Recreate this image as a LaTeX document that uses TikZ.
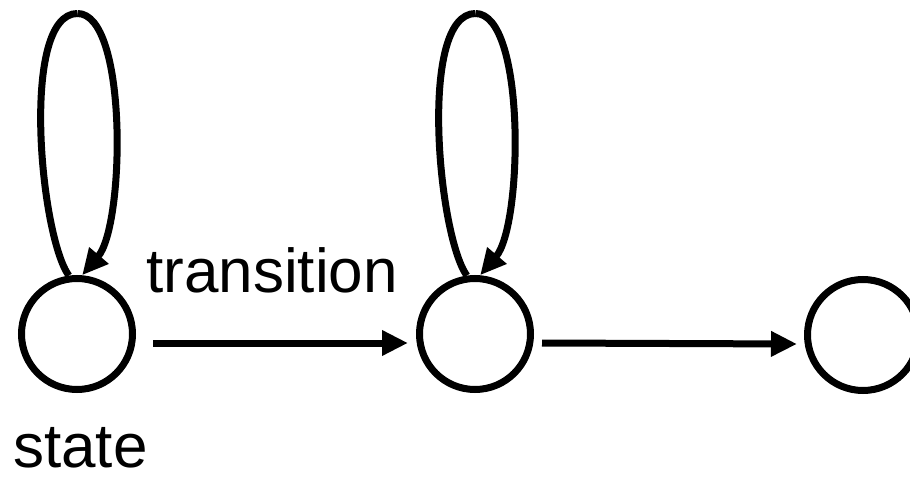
\documentclass[tikz,border=0pt]{standalone}
\usepackage{fontspec}
\setmainfont{Liberation Sans}
\usetikzlibrary{arrows.meta}
\begin{document}
\begin{tikzpicture}[x=1pt,y=-1pt,
  statenode/.style={circle,draw=black,line width=7pt,minimum size=111pt,inner sep=0pt,outer sep=3.5pt},
  loopline/.style={line width=7pt},
  edgeline/.style={line width=7pt,-{Triangle[length=26pt,width=24pt]}},
  label/.style={inner sep=0pt,font=\fontsize{62}{70}\selectfont}]
\useasboundingbox (0,0) rectangle (910,486);
% states
\node[statenode] (c1) at (77,334) {};
\node[statenode] (c2) at (475,334) {};
\node[statenode] (c3) at (863,335) {};
% top points of the self loops
\coordinate (top1) at ([shift={(0.5,-320.5)}]c1.center);
\coordinate (top2) at ([shift={(0.5,-320.5)}]c2.center);
% self loops
\draw[loopline] (c1.98) .. controls ([shift={(-37,-99)}]c1.center) and ([shift={(-57,-320.5)}]c1.center) .. (top1);
\draw[edgeline] (top1) .. controls ([shift={(51,-320.5)}]c1.center) and ([shift={(48,-109)}]c1.center) .. (c1.85);
\draw[loopline] (c2.98) .. controls ([shift={(-37,-99)}]c2.center) and ([shift={(-57,-320.5)}]c2.center) .. (top2);
\draw[edgeline] (top2) .. controls ([shift={(51,-320.5)}]c2.center) and ([shift={(48,-109)}]c2.center) .. (c2.85);
% transitions
\draw[edgeline] ([shift={(17,9)}]c1.east) -- ([shift={(-8,9)}]c2.west);
\draw[edgeline] ([shift={(8,9)}]c2.east) -- ([shift={(-7,9)}]c3.west);
% labels
\node[label,anchor=base west] (tlabel) at (146,293) {transition};
\node[label,anchor=base west] (slabel) at (13,467) {state};
\end{tikzpicture}
\end{document}
